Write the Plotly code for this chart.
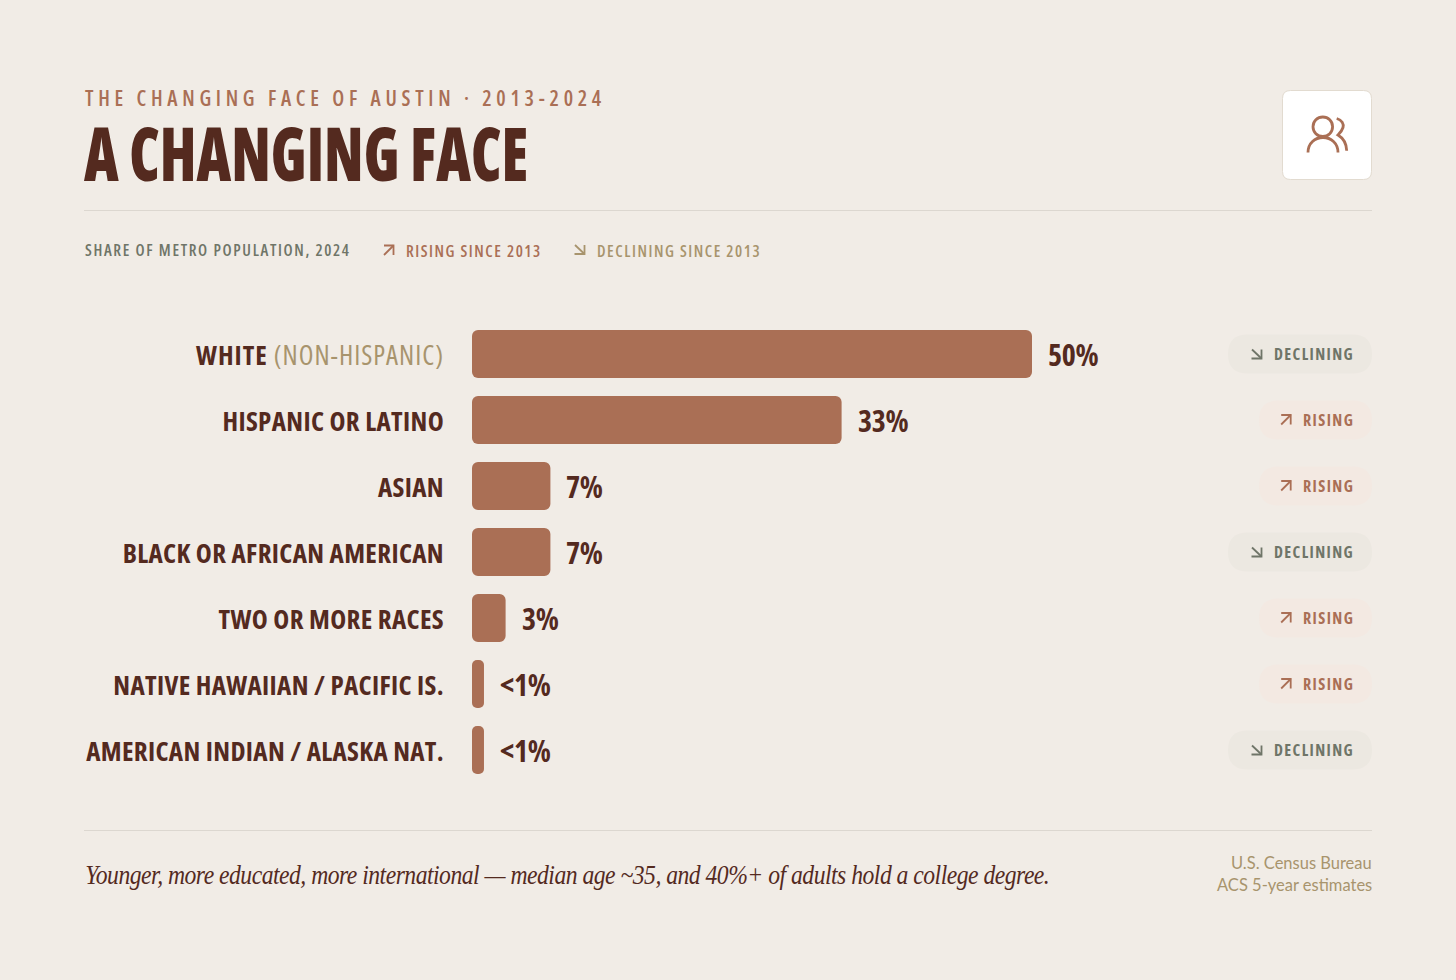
import plotly.graph_objects as go

WIDTH = 1456
HEIGHT = 980

BG = "#f1ece6"
BAR = "#aa6f55"
DARK = "#542a1f"
TAN = "#a8946d"
GREY = "#6f7568"
RULE = "#dcd7d0"

COND = "Open Sans"


def cond(text, spacing=0, stretch="75%", extra=""):
    return f'<span style="font-stretch:{stretch};letter-spacing:{spacing}px;{extra}">{text}</span>'


categories = [
    "White (Non-Hispanic)",
    "Hispanic or Latino",
    "Asian",
    "Black or African American",
    "Two or More Races",
    "Native Hawaiian / Pacific Is.",
    "American Indian / Alaska Nat.",
]
tick_labels = [
    cond("WHITE ", 1) + cond("(NON-HISPANIC)", 1, extra=f"color:{TAN};font-weight:500"),
    cond("HISPANIC OR LATINO", 0.35),
    cond("ASIAN", 0.35),
    cond("BLACK OR AFRICAN AMERICAN", 0.35),
    cond("TWO OR MORE RACES", 0.35),
    cond("NATIVE HAWAIIAN / PACIFIC IS.", 0.35),
    cond("AMERICAN INDIAN / ALASKA NAT.", 0.35),
]
# <1% bars are drawn at their visible length
values = [50, 33, 7, 7, 3, 1.07, 1.07]
value_labels = ["50%", "33%", "7%", "7%", "3%", "&lt;1%", "&lt;1%"]
trends = ["DECLINING", "RISING", "RISING", "DECLINING", "RISING", "RISING", "DECLINING"]

PX_PER_PCT = 11.2
ROW_CENTERS = [354 + 66 * i for i in range(len(categories))]

# no condensed serif or heavy condensed cut here, so these two get squeezed in the page
POST_SCRIPT = """
document.body.style.margin = '0';
function squeeze(start, k) {
  document.querySelectorAll('svg text').forEach(function (t) {
    if (t.textContent.indexOf(start) === 0) {
      t.style.transformBox = 'fill-box';
      t.style.transformOrigin = 'left center';
      t.style.transform = 'scaleX(' + k + ')';
    }
  });
}
squeeze('A CHANGING FACE', 0.816);
squeeze('Younger, more', 0.845);
"""


def px(x, y):
    return f"{x / WIDTH:.6f},{1 - y / HEIGHT:.6f}"


def line_path(points):
    return "M" + " L".join(px(x, y) for x, y in points)


def round_rect(x0, y0, x1, y1, r):
    return (
        f"M{px(x0 + r, y0)} L{px(x1 - r, y0)} Q{px(x1, y0)} {px(x1, y0 + r)} "
        f"L{px(x1, y1 - r)} Q{px(x1, y1)} {px(x1 - r, y1)} "
        f"L{px(x0 + r, y1)} Q{px(x0, y1)} {px(x0, y1 - r)} "
        f"L{px(x0, y0 + r)} Q{px(x0, y0)} {px(x0 + r, y0)} Z"
    )


def label(x, y, text, size, color, family=COND, anchor="left", weight=400, style="normal"):
    return dict(
        x=x / WIDTH, y=1 - y / HEIGHT, xref="paper", yref="paper",
        text=text, showarrow=False, xanchor=anchor, yanchor="middle", borderpad=0,
        font=dict(size=size, color=color, family=family, weight=weight, style=style),
    )


def path_shape(path, color, width=2, fill=None):
    return dict(
        type="path", xref="paper", yref="paper", path=path, layer="below",
        line=dict(color=color, width=width),
        fillcolor=fill if fill else "rgba(0,0,0,0)",
    )


def arrow_up(x, y, color):
    # (x, y) is the tip of the arrow
    return [
        path_shape(line_path([(x - 9.5, y), (x, y), (x, y + 9.5)]), color, 1.8),
        path_shape(line_path([(x - 9.5, y + 9.5), (x, y)]), color, 1.8),
    ]


def arrow_down(x, y, color):
    return [
        path_shape(line_path([(x - 10, y), (x, y), (x, y - 9)]), color, 1.8),
        path_shape(line_path([(x - 9.5, y - 9), (x, y)]), color, 1.8),
    ]


fig = go.Figure()

# a bar with an explicit base gets rounded on both ends
fig.add_trace(go.Bar(
    y=categories, x=values, base=[0] * len(categories),
    orientation="h", width=48 / 66, marker=dict(color=BAR, cornerradius=6, line=dict(width=0)),
    showlegend=False,
))

shapes = [
    dict(type="line", xref="paper", yref="paper", x0=84 / WIDTH, x1=1372 / WIDTH,
         y0=1 - 210.5 / HEIGHT, y1=1 - 210.5 / HEIGHT, line=dict(color=RULE, width=1), layer="below"),
    dict(type="line", xref="paper", yref="paper", x0=84 / WIDTH, x1=1372 / WIDTH,
         y0=1 - 830.5 / HEIGHT, y1=1 - 830.5 / HEIGHT, line=dict(color=RULE, width=1), layer="below"),
    # icon card
    path_shape(round_rect(1282.5, 90.5, 1371.5, 179.5, 8), "#e2dbd0", 1, "#ffffff"),
    dict(type="circle", xref="paper", yref="paper", x0=1313 / WIDTH, x1=1332.6 / WIDTH,
         y0=1 - 136.5 / HEIGHT, y1=1 - 117 / HEIGHT, line=dict(color=BAR, width=2.8), layer="below"),
    path_shape(f"M{px(1308, 152.5)} C{px(1308, 143)} {px(1315, 137.5)} {px(1323, 137.5)} "
               f"C{px(1331, 137.5)} {px(1338, 143)} {px(1338, 152.5)}", BAR, 2.8),
    path_shape(f"M{px(1336.7, 118.5)} C{px(1342, 120)} {px(1344, 124)} {px(1343, 127.5)} "
               f"C{px(1342, 131)} {px(1340, 133)} {px(1338, 135)} "
               f"C{px(1343, 138)} {px(1346.5, 144)} {px(1346.7, 150.7)}", BAR, 2.8),
]
shapes += arrow_up(393.5, 245.5, BAR)
shapes += arrow_down(584.5, 254, TAN)

annotations = [
    label(84, 98, cond("THE CHANGING FACE OF AUSTIN · 2013-2024", 4.73), 21, BAR, weight=600),
    label(83.5, 250, cond("SHARE OF METRO POPULATION, 2024", 1.65), 16, GREY, weight=600),
    label(404.5, 251, cond("RISING SINCE 2013", 1.55), 16, BAR, weight=600),
    label(595.5, 251, cond("DECLINING SINCE 2013", 1.55), 16, TAN, weight=600),
    label(84, 874.5, '<span style="letter-spacing:-0.6px">Younger, more educated, more international — median age ~35, and 40%+ of adults hold a college degree.</span>',
          28, DARK, family="Liberation Serif", style="italic"),
    label(1372.5, 863, "U.S. Census Bureau", 16.5, TAN, family="Lato", anchor="right"),
    label(1372.5, 885, "ACS 5-year estimates", 16.5, TAN, family="Lato", anchor="right"),
]

for cat, value, text, trend, cy in zip(categories, values, value_labels, trends, ROW_CENTERS):
    annotations.append(dict(
        x=value, y=cat, xref="x", yref="y", text=cond(text, -0.3, "87%"),
        showarrow=False, xanchor="left", yanchor="middle", xshift=14,
        font=dict(size=30, color=DARK, family=COND, weight=700),
    ))
    rising = trend == "RISING"
    pill_left = 1259 if rising else 1228
    pill_fill = "#f3e9e2" if rising else "#ece8e1"
    color = BAR if rising else GREY
    shapes.append(path_shape(round_rect(pill_left, cy - 19.5, 1372, cy + 19.5, 19.5), pill_fill, 0, pill_fill))
    if rising:
        shapes += arrow_up(1290.7, cy - 5, color)
    else:
        shapes += arrow_down(1261.5, cy + 4.5, color)
    annotations.append(label(1355, cy, cond(trend, 1.4), 16, color, anchor="right", weight=700))

fig.update_layout(
    width=WIDTH, height=HEIGHT, margin=dict(l=0, r=0, t=0, b=0, autoexpand=False),
    paper_bgcolor=BG, plot_bgcolor=BG, barmode="overlay", showlegend=False,
    title=dict(text=cond("A CHANGING FACE"), x=84 / WIDTH, y=1 - 155 / HEIGHT, xref="paper", yref="paper",
               xanchor="left", yanchor="middle", pad=dict(l=0, r=0, t=0, b=0),
               font=dict(size=74, color=DARK, family=COND, weight=800)),
    xaxis=dict(domain=[472 / WIDTH, 1372 / WIDTH], range=[0, 900 / PX_PER_PCT], visible=False, fixedrange=True),
    yaxis=dict(
        domain=[1 - 783 / HEIGHT, 1 - 321 / HEIGHT], autorange="reversed", type="category",
        categoryorder="array", categoryarray=categories,
        tickmode="array", tickvals=categories, ticktext=tick_labels, ticks="",
        ticklabelstandoff=27, ticklabelshift=-2, showgrid=False, zeroline=False, showline=False, fixedrange=True,
        tickfont=dict(size=27, color=DARK, family=COND, weight=700),
    ),
    shapes=shapes, annotations=annotations,
)

fig.write_html("out.html", config={"displayModeBar": False}, post_script=POST_SCRIPT)
